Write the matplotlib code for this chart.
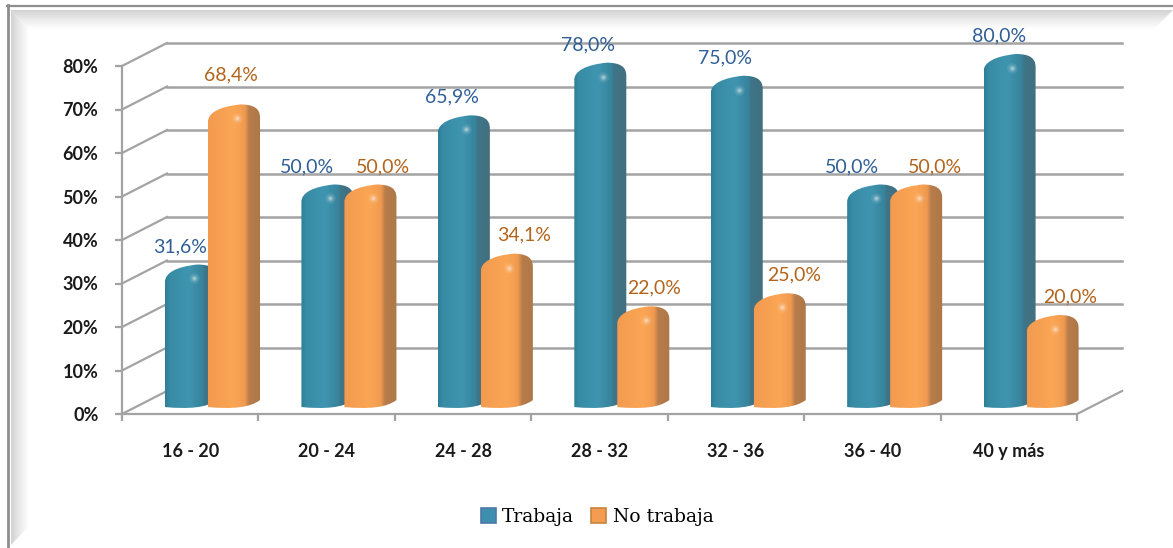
import numpy as np
import matplotlib
matplotlib.use("Agg")
import matplotlib.pyplot as plt
from matplotlib.colors import LinearSegmentedColormap
from matplotlib.patches import PathPatch, Patch, Polygon
from matplotlib.path import Path

categories = ["16 - 20", "20 - 24", "24 - 28", "28 - 32", "32 - 36", "36 - 40", "40 y más"]
trabaja = [31.6, 50.0, 65.9, 78.0, 75.0, 50.0, 80.0]
no_trabaja = [68.4, 50.0, 34.1, 22.0, 25.0, 50.0, 20.0]
y_ticks = [0, 10, 20, 30, 40, 50, 60, 70, 80]

W, H = 1173, 548

# colour ramps across the width of a column
teal = LinearSegmentedColormap.from_list("teal", [(0, "#2c7f97"), (0.1, "#388ca5"), (0.45, "#3f95b0"),
                                                  (0.7, "#37849d"), (0.76, "#3f7488"), (1, "#42707f")])
orange = LinearSegmentedColormap.from_list("orange", [(0, "#f39a4f"), (0.5, "#fba655"), (0.7, "#f09a50"),
                                                      (0.78, "#b87c4a"), (1, "#ae7848")])

fig = plt.figure(figsize=(W / 100, H / 100), dpi=100, facecolor="white")

# background frame, in pixels
bg = fig.add_axes([0, 0, 1, 1])
bg.set_xlim(0, W)
bg.set_ylim(H, 0)
bg.axis("off")
fade = LinearSegmentedColormap.from_list("fade", ["#d2d2d2", "#ebebeb", "#ffffff"])
ramp = np.linspace(0, 1, 64)
top_band = bg.imshow(ramp[:, None], cmap=fade, extent=[10, W, 29, 10], aspect="auto", zorder=1)
top_poly = Polygon([(10, 10), (W, 10), (W - 19, 29), (29, 29)], transform=bg.transData, fc="none", ec="none")
bg.add_patch(top_poly)
top_band.set_clip_path(top_poly)
left_band = bg.imshow(ramp[None, :], cmap=fade, extent=[11, 29, H, 10], aspect="auto", zorder=1)
left_poly = Polygon([(11, 11), (29, 29), (29, H - 22), (11, H - 3)], transform=bg.transData, fc="none", ec="none")
bg.add_patch(left_poly)
left_band.set_clip_path(left_poly)
bg.plot([7, W], [5.5, 5.5], color="#8e8e8e", lw=1.6, zorder=2)
bg.plot([7.5, 7.5], [5, H], color="#8e8e8e", lw=2, zorder=2)
bg.set_xlim(0, W)
bg.set_ylim(H, 0)

# main axes: front of the 3d box
px_x = 136.43
px_y = 4.35
depth_x = 45 / px_x
depth_y = 23 / px_y
ax = fig.add_axes([122 / W, (H - 414) / H, 7.33 * px_x / W, (80 + depth_y) * px_y / H])
ax.patch.set_alpha(0)
ax.set_xlim(0, 7 + depth_x)
ax.set_ylim(0, 80 + depth_y)

grid_col = "#a3a3a3"
for s in ["top", "right"]:
    ax.spines[s].set_visible(False)
for s in ["left", "bottom"]:
    ax.spines[s].set_color(grid_col)
    ax.spines[s].set_linewidth(1.6)
ax.spines["left"].set_bounds(0, 80)
ax.spines["bottom"].set_bounds(0, 7)

ax.set_yticks(y_ticks)
ax.set_yticklabels([f"{v}%" for v in y_ticks], fontsize=13, fontfamily="Lato", fontweight="bold", color="#1a1a1a")
ax.tick_params(axis="y", length=5, width=1.6, color=grid_col, pad=12)
ax.set_xticks(range(8))
ax.set_xticklabels([])
ax.set_xticks(np.arange(len(categories)) + 0.5, minor=True)
ax.set_xticklabels(categories, minor=True, fontsize=13, fontfamily="Lato", fontweight="bold", color="#1a1a1a")
ax.tick_params(axis="x", which="major", length=5, width=1.6, color=grid_col)
ax.tick_params(axis="x", which="minor", length=0, pad=21)

# back wall and side wall
for v in y_ticks:
    ax.plot([0, depth_x], [v, v + depth_y], color=grid_col, lw=1.6, clip_on=False, zorder=1)
    if v > 0:
        ax.plot([depth_x, 7 + depth_x], [v + depth_y, v + depth_y], color=grid_col, lw=1.8, clip_on=False, zorder=1)
ax.plot([7, 7 + depth_x], [0, depth_y], color=grid_col, lw=1.6, clip_on=False, zorder=1)


def column(x0, w, val, cmap, z):
    top = val + 2.76
    verts = [(x0, 1.6), (x0, top - 4.0),
             (x0, top - 1.9), (x0 + 0.22 * w, top - 0.5), (x0 + 0.62 * w, top),
             (x0 + 0.88 * w, top), (x0 + w, top - 0.9), (x0 + w, top - 3.0),
             (x0 + w, 3.2),
             (x0 + 0.8 * w, 1.4), (x0 + 0.45 * w, 1.1), (x0, 1.6), (x0, 1.6)]
    codes = [Path.MOVETO, Path.LINETO, Path.CURVE4, Path.CURVE4, Path.CURVE4,
             Path.CURVE4, Path.CURVE4, Path.CURVE4, Path.LINETO,
             Path.CURVE4, Path.CURVE4, Path.CURVE4, Path.CLOSEPOLY]
    shape = PathPatch(Path(verts, codes), fc="none", ec="none", zorder=z)
    ax.add_patch(shape)
    im = ax.imshow(np.linspace(0, 1, 128)[None, :], cmap=cmap, extent=[x0, x0 + w, 0, top], aspect="auto",
                   interpolation="bilinear", zorder=z)
    im.set_clip_path(shape)
    # soft glint on the cap
    for size, alpha in [(60, 0.08), (28, 0.12), (12, 0.18), (4, 0.3)]:
        ax.scatter([x0 + 0.55 * w], [top - 3.2], s=size, color="white", alpha=alpha, lw=0,
                   zorder=z + 0.1, clip_on=False)


bar_w = 52 / px_x
for i in range(len(categories)):
    column(i + 43 / px_x, bar_w, trabaja[i], teal, 3 + i)
    column(i + 86 / px_x, bar_w, no_trabaja[i], orange, 3.5 + i)

# label offsets from the column centre, in pixels
blue_dx = [-11, -20, -12, -12, -12, -21, -11]
brown_dx = [-3, 13, 17, 11, 14, 19, 18]
brown_dy = [31, 19, 20, 19, 19, 19, 19]
for i in range(len(categories)):
    ax.annotate(f"{trabaja[i]:.1f}%".replace(".", ","), (i + 69 / px_x, trabaja[i] + 2.76),
                xytext=(blue_dx[i], 18), textcoords="offset pixels", ha="center", va="center",
                fontsize=14, fontfamily="Lato", color="#2f5f96", annotation_clip=False, zorder=30)
    ax.annotate(f"{no_trabaja[i]:.1f}%".replace(".", ","), (i + 112 / px_x, no_trabaja[i] + 2.76),
                xytext=(brown_dx[i], brown_dy[i] - 1), textcoords="offset pixels", ha="center", va="center",
                fontsize=14, fontfamily="Lato", color="#b3641c", annotation_clip=False, zorder=30)

handles = [Patch(fc="#3d8fb0", ec="#4f78a8", lw=1.2, label="Trabaja"),
           Patch(fc="#f59c50", ec="#c5843f", lw=1.2, label="No trabaja")]
fig.legend(handles=handles, loc="center", bbox_to_anchor=(597 / W, (H - 517) / H), ncol=2, frameon=False,
           prop={"family": "DejaVu Serif", "size": 13.5}, handlelength=0.8, handleheight=0.85,
           handletextpad=0.35, columnspacing=0.9)

fig.savefig("out.png", dpi=100)
